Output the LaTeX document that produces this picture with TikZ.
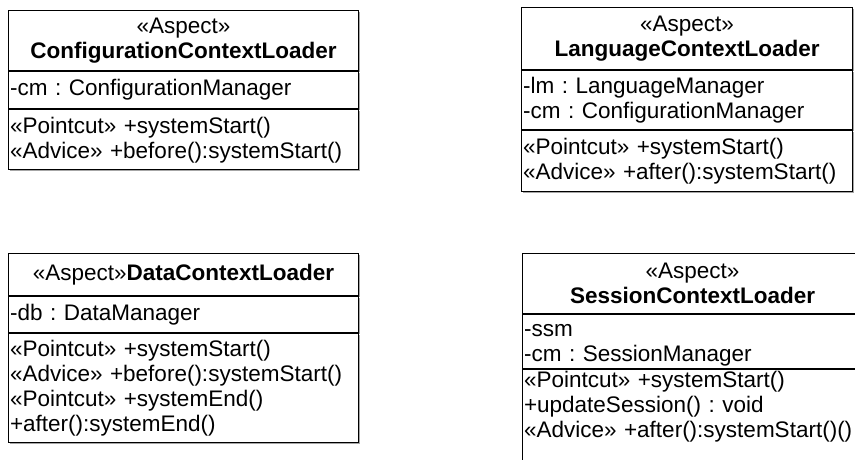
\documentclass[tikz,border=0pt]{standalone}
\usepackage{fontspec}
\setmainfont{Liberation Sans}
\usetikzlibrary{positioning,shadows}
\newcommand{\umlfont}{\fontsize{22.5}{25}\selectfont\frenchspacing}
\begin{document}
\begin{tikzpicture}[x=1pt,y=-1pt,
    compart/.style={draw,fill=white,line width=1.1pt,inner xsep=1.5pt,inner ysep=0pt,
      text width=#1,align=left,font=\umlfont,
      drop shadow={shadow xshift=1.2pt,shadow yshift=-1.2pt,fill=gray!70,opacity=1}},
    headpart/.style={compart=#1,align=center}]
    \useasboundingbox (0,0) rectangle (855,460);
    \clip (0,0) rectangle (855,460);

    \node[headpart=347pt,minimum height=60pt,anchor=north west] (cfgHead) at (8,10)
        {«Aspect»\\\textbf{ConfigurationContextLoader}};
    \node[compart=347pt,minimum height=37pt,below=0pt of cfgHead] (cfgAttr)
        {-cm : ConfigurationManager};
    \node[compart=347pt,minimum height=60pt,below=0pt of cfgAttr] (cfgOps)
        {«Pointcut» +systemStart()\\«Advice» +before():systemStart()};

    \node[headpart=328pt,minimum height=62pt,anchor=north west] (langHead) at (521,7)
        {«Aspect»\\\textbf{LanguageContextLoader}};
    \node[compart=328pt,minimum height=59pt,below=0pt of langHead] (langAttr)
        {-lm : LanguageManager\\-cm : ConfigurationManager};
    \node[compart=328pt,minimum height=61pt,below=0pt of langAttr] (langOps)
        {«Pointcut» +systemStart()\\«Advice» +after():systemStart()};

    \node[headpart=347pt,minimum height=42pt,anchor=north west] (dataHead) at (8,253)
        {«Aspect»\textbf{DataContextLoader}};
    \node[compart=347pt,minimum height=36pt,below=0pt of dataHead] (dataAttr)
        {-db : DataManager};
    \node[compart=347pt,minimum height=109pt,below=0pt of dataAttr] (dataOps)
        {«Pointcut» +systemStart()\\«Advice» +before():systemStart()\\«Pointcut» +systemEnd()\\+after():systemEnd()};

    \node[headpart=337pt,minimum height=60pt,anchor=north west] (sesHead) at (522,253)
        {«Aspect»\\\textbf{SessionContextLoader}};
    \node[compart=337pt,text height=22pt,text depth=32pt,below=0pt of sesHead] (sesAttr)
        {-ssm\\-cm : SessionManager};
    \node[compart=337pt,text height=18pt,text depth=100pt,below=0pt of sesAttr] (sesOps)
        {«Pointcut» +systemStart()\\+updateSession() : void\\«Advice» +after():systemStart()()};
\end{tikzpicture}
\end{document}
